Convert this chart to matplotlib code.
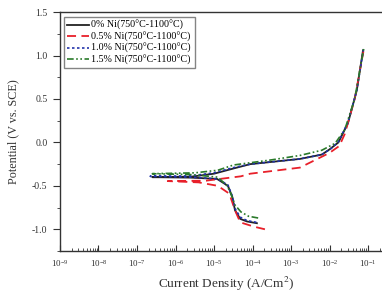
import numpy as np
import matplotlib
matplotlib.use("Agg")
import matplotlib.pyplot as plt
from matplotlib.ticker import LogLocator, MultipleLocator, NullFormatter

plt.rcParams['font.family'] = ['Liberation Serif', 'DejaVu Serif']
plt.rcParams['mathtext.fontset'] = 'stix'

labels = ['0% Ni(750\u00b0C-1100\u00b0C)', '0.5% Ni(750\u00b0C-1100\u00b0C)',
          '1.0% Ni(750\u00b0C-1100\u00b0C)', '1.5% Ni(750\u00b0C-1100\u00b0C)']

# current density (A/cm2), cathodic end -> Ecorr -> anodic end
i_0 = [1.3e-4, 7.2e-5, 4.8e-5, 3.5e-5, 3.0e-5, 2.3e-5, 1.2e-5, 2.5e-6, 2.5e-7,
       2.5e-6, 1.0e-5, 3.2e-5, 8.7e-5, 1.7e-3, 6.3e-3, 1.0e-2, 1.7e-2, 3.0e-2, 5.1e-2, 7.4e-2]
e_0 = [-0.93, -0.91, -0.88, -0.78, -0.63, -0.50, -0.42, -0.405, -0.40,
       -0.395, -0.36, -0.30, -0.25, -0.19, -0.14, -0.08, 0.0, 0.22, 0.60, 1.06]

i_05 = [2.1e-4, 1.1e-4, 4.8e-5, 3.5e-5, 2.5e-5, 1.26e-5, 4.0e-6, 6.3e-7,
        6.3e-6, 5.0e-5, 8.7e-5, 1.7e-3, 1.0e-2, 1.8e-2, 2.5e-2, 4.5e-2, 7.6e-2]
e_05 = [-1.00, -0.97, -0.92, -0.78, -0.59, -0.50, -0.46, -0.445,
        -0.44, -0.39, -0.36, -0.29, -0.12, -0.04, 0.10, 0.50, 1.05]

i_10 = [1.26e-4, 7.2e-5, 4.8e-5, 3.5e-5, 3.0e-5, 2.3e-5, 1.26e-5, 2.5e-6, 2.2e-7,
        2.5e-6, 1.0e-5, 3.2e-5, 8.7e-5, 1.7e-3, 6.3e-3, 1.1e-2, 1.7e-2, 3.0e-2, 5.1e-2, 7.6e-2]
e_10 = [-0.92, -0.90, -0.86, -0.76, -0.62, -0.49, -0.42, -0.40, -0.39,
        -0.385, -0.35, -0.29, -0.25, -0.19, -0.14, -0.07, 0.01, 0.23, 0.60, 1.07]

i_15 = [1.4e-4, 7.9e-5, 5.0e-5, 3.5e-5, 2.8e-5, 2.2e-5, 1.26e-5, 2.5e-6, 2.5e-7,
        3.2e-6, 1.26e-5, 3.2e-5, 3.2e-4, 1.7e-3, 6.3e-3, 1.4e-2, 2.5e-2, 4.5e-2, 7.8e-2]
e_15 = [-0.87, -0.85, -0.80, -0.72, -0.60, -0.50, -0.40, -0.37, -0.36,
        -0.35, -0.32, -0.26, -0.20, -0.15, -0.09, -0.01, 0.15, 0.50, 1.09]

fig = plt.figure(figsize=(3.82, 2.96), dpi=100)
ax = fig.add_axes([0.157, 0.152, 0.872, 0.807])

ax.plot(i_0, e_0, color='#222222', lw=1.3, ls='-', label=labels[0])
ax.plot(i_05, e_05, color='#e8202a', lw=1.3, ls=(0, (5, 3)), label=labels[1])
ax.plot(i_10, e_10, color='#2233aa', lw=1.2, ls=(0, (1.5, 1.5)), label=labels[2])
ax.plot(i_15, e_15, color='#2a7a2a', lw=1.2, ls=(0, (4, 1.5, 1, 1.5, 1, 1.5)), label=labels[3])

ax.set_xscale('log')
ax.set_xlim(1e-9, 10 ** -0.35)
ax.set_ylim(-1.25, 1.5)
ax.xaxis.set_major_locator(LogLocator(base=10, numticks=20))
ax.xaxis.set_minor_locator(LogLocator(base=10, subs=np.arange(2, 10), numticks=20))
ax.xaxis.set_minor_formatter(NullFormatter())
ax.yaxis.set_minor_locator(MultipleLocator(0.25))
ax.set_yticks([-1.0, -0.5, 0.0, 0.5, 1.0, 1.5])
ax.set_yticklabels(['-1.0', '-0.5', '0.0', '0.5', '1.0', '1.5'])

ax.tick_params(axis='x', which='both', direction='in', labelsize=6.5, pad=5, colors='#333333')
ax.tick_params(axis='x', which='major', length=4)
ax.tick_params(axis='x', which='minor', length=2)
ax.tick_params(axis='y', which='both', direction='out', labelsize=7, pad=4, colors='#333333')
ax.tick_params(axis='y', which='major', length=5)
ax.tick_params(axis='y', which='minor', length=2.5)
for s in ax.spines.values():
    s.set_linewidth(1.0)
    s.set_color('#333333')

ax.set_xlabel('Current Density (A/Cm$^2$)', fontsize=9.5, labelpad=4, color='#333333')
ax.set_ylabel('Potential (V vs. SCE)', fontsize=8.7, labelpad=9, color='#333333')

ax.legend(loc='upper left', bbox_to_anchor=(0.012, 0.98), fontsize=7.2, frameon=True,
          fancybox=False, edgecolor='#666666', handlelength=2.2, handletextpad=0.2,
          labelspacing=0.15, borderpad=0.35, borderaxespad=0)

fig.savefig('out.png', dpi=100)
